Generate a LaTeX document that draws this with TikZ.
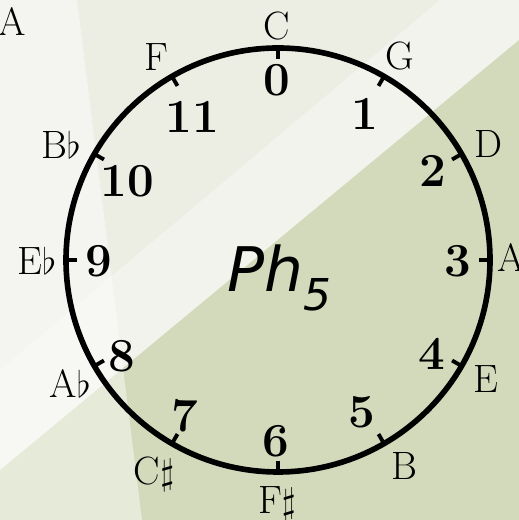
\documentclass[tikz,border=0pt]{standalone}
\usepackage{fontspec}
\newfontfamily\phfont{DejaVu Sans}
\definecolor{bgbase}{HTML}{ECEEE4}
\definecolor{bggreen}{HTML}{C3CFA2}
\tikzset{
  notelbl/.style={anchor=base, inner sep=0pt, font=\fontsize{22.5}{22.5}\selectfont},
  numlbl/.style={anchor=base, inner sep=0pt, font=\fontsize{27}{27}\selectfont\bfseries},
  tickmark/.style={line width=2.2pt},
  ring/.style={line width=3.2pt}
}
\begin{document}
\begin{tikzpicture}[x=0.02cm, y=0.02cm]
\useasboundingbox (0,0) rectangle (519,520);

% background
\fill[bgbase] (0,0) rectangle (519,520);
\fill[bggreen, opacity=0.62] (0,50) -- (519,480) -- (519,0) -- (0,0) -- cycle;
\fill[white, opacity=0.3] (0,50) -- (519,480) -- (519,520) -- (440,520) -- (0,150) -- cycle;
\fill[white, opacity=0.45] (0,520) -- (77,520) -- (142,0) -- (0,0) -- cycle;

\node[notelbl] (panel) at (12,484) {A};

% circle
\coordinate (ctr) at (278,260);
\draw[ring] (ctr) circle (212);
\begin{scope}[shift={(ctr)}]
\foreach \a in {0,30,...,330}
  \draw[tickmark] (\a:201) -- (\a:212);
\end{scope}

\node[notelbl] (nc) at (277,480) {C};
\node[notelbl] (ng) at (400,450) {G};
\node[notelbl] (nd) at (488,362) {D};
\node[notelbl] (na) at (511,248) {A};
\node[notelbl] (ne) at (486,127) {E};
\node[notelbl] (nb) at (404,40) {B};
\node[notelbl] (nfs) at (277,7) {F$\sharp$};
\node[notelbl] (ncs) at (154,35) {C$\sharp$};
\node[notelbl] (nab) at (70,122) {A$\flat$};
\node[notelbl] (neb) at (37,245) {E$\flat$};
\node[notelbl] (nbb) at (61,361) {B$\flat$};
\node[notelbl] (nf) at (156,449) {F};

\node[numlbl] (k0) at (277,424) {0};
\node[numlbl] (k1) at (365,390) {1};
\node[numlbl] (k2) at (433,333) {2};
\node[numlbl] (k3) at (458,243) {3};
\node[numlbl] (k4) at (432,150) {4};
\node[numlbl] (k5) at (362,92) {5};
\node[numlbl] (k6) at (276,63) {6};
\node[numlbl] (k7) at (185,88) {7};
\node[numlbl] (k8) at (122,148) {8};
\node[numlbl] (k9) at (99,243) {9};
\node[numlbl] (k10) at (127,323) {10};
\node[numlbl] (k11) at (192,387) {11};

\node[anchor=base west, inner sep=0pt, font=\phfont\fontsize{35}{35}\selectfont\itshape]
  (ph) at (227,228) {Ph\raisebox{-0.3em}{\fontsize{25}{25}\selectfont 5}};
\end{tikzpicture}
\end{document}
